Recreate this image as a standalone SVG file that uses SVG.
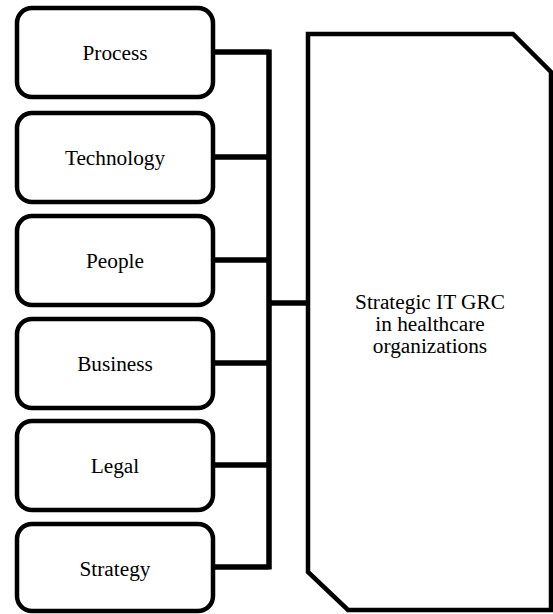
<svg xmlns="http://www.w3.org/2000/svg" width="553" height="614" viewBox="0 0 553 614">
<style>
.box{fill:#fff;stroke:#000;stroke-width:4.5}
.lbl{font-family:"Liberation Serif","Times New Roman",serif;font-size:21.3px;fill:#000;text-anchor:middle}
.con{fill:none;stroke:#000;stroke-width:5.5}
</style>
<rect width="553" height="614" fill="#fff"/>
<g id="connectors">
<path class="con" d="M214 52H269M214 157H269M214 260H269M214 363H269M214 465H269M214 567H269M269 49.5V569.5M269 303H309"/>
</g>
<g id="main">
<polygon class="box" points="308,34 513,34 551,72 551,610 348,610 308,572"/>
<text class="lbl" x="430" y="309">Strategic IT GRC</text>
<text class="lbl" x="430" y="331">in healthcare</text>
<text class="lbl" x="430" y="353">organizations</text>
</g>
<g id="process"><rect class="box" x="17" y="8" width="196" height="89" rx="15"/><text class="lbl" x="115" y="60">Process</text></g>
<g id="technology"><rect class="box" x="17" y="113" width="196" height="89" rx="15"/><text class="lbl" x="115" y="165">Technology</text></g>
<g id="people"><rect class="box" x="17" y="216" width="196" height="89" rx="15"/><text class="lbl" x="115" y="268">People</text></g>
<g id="business"><rect class="box" x="17" y="319" width="196" height="89" rx="15"/><text class="lbl" x="115" y="371">Business</text></g>
<g id="legal"><rect class="box" x="17" y="421" width="196" height="89" rx="15"/><text class="lbl" x="115" y="473">Legal</text></g>
<g id="strategy"><rect class="box" x="17" y="524" width="196" height="87" rx="15"/><text class="lbl" x="115" y="576">Strategy</text></g>
</svg>
